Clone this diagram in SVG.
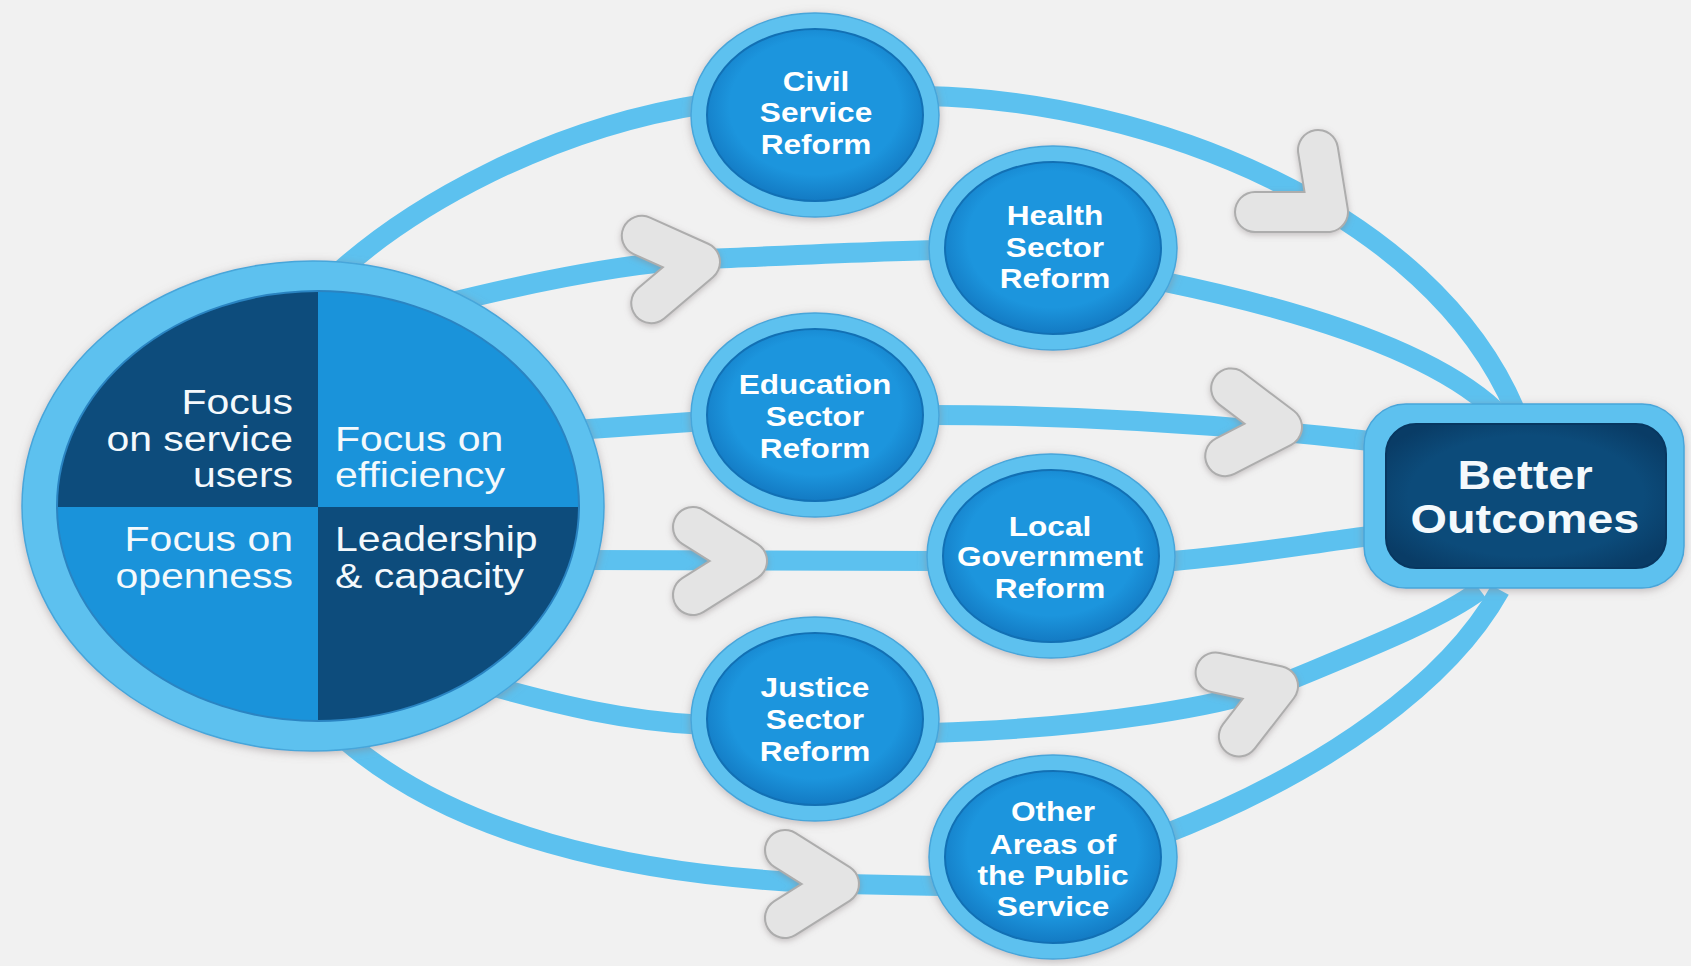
<svg xmlns="http://www.w3.org/2000/svg" xmlns:xlink="http://www.w3.org/1999/xlink" width="1691" height="966" viewBox="0 0 1691 966">
<defs>
<style>
.conn{fill:none;stroke:#5CC1EF;stroke-width:20}
.ring{fill:#5DC1EF;stroke:#47A6DA;stroke-width:1.5}
.core{fill:url(#coreGrad);stroke:#1270B4;stroke-width:2}
.lbl{font-family:"Liberation Sans",Arial,sans-serif;font-weight:bold;font-size:27px;fill:#FFFFFF;text-anchor:middle}
.qt{font-family:"Liberation Sans",Arial,sans-serif;font-size:35px;fill:#F4F9FC}
.big{font-family:"Liberation Sans",Arial,sans-serif;font-weight:bold;font-size:40px;fill:#F4F9FC;text-anchor:middle}
.chevO{fill:none;stroke:#ADADAD;stroke-width:42;stroke-linecap:round;stroke-linejoin:round}
.chevF{fill:none;stroke:#E4E4E4;stroke-width:38;stroke-linecap:round;stroke-linejoin:round}
.dark{fill:#0D4C7C}
.bright{fill:#1A93DA}
</style>
<radialGradient id="coreGrad" cx="50%" cy="45%" r="55%">
<stop offset="0.72" stop-color="#1C95DD"/>
<stop offset="1" stop-color="#137AC3"/>
</radialGradient>
<radialGradient id="darkGrad" cx="50%" cy="50%" r="60%">
<stop offset="0.7" stop-color="#0C4B7A"/>
<stop offset="1" stop-color="#093C66"/>
</radialGradient>
<filter id="sh" x="-20%" y="-20%" width="140%" height="140%">
<feDropShadow dx="0" dy="2" stdDeviation="4" flood-color="#8c8082" flood-opacity="0.5"/>
</filter>
<filter id="shc" x="-80%" y="-80%" width="260%" height="260%">
<feDropShadow dx="0" dy="2" stdDeviation="3" flood-color="#8c8082" flood-opacity="0.45"/>
</filter>
<path id="chev" d="M -54,-34 L 0,0 L -54,34"/>
<clipPath id="leftClip"><ellipse cx="318" cy="506" rx="261" ry="215"/></clipPath>
</defs>
<rect width="1691" height="966" fill="#F1F1F1"/>

<g id="connectors">
<path class="conn" d="M 330,280 C 410,205 550,128 705,104"/>
<path class="conn" d="M 925,96 C 1150,100 1430,210 1515,410"/>
<path class="conn" d="M 440,305 C 540,280 630,262 706,259 C 800,255 880,251 940,250"/>
<path class="conn" d="M 1165,282 C 1300,310 1430,350 1495,410"/>
<path class="conn" d="M 575,430 L 705,421"/>
<path class="conn" d="M 930,415 C 1080,415 1220,424 1370,441"/>
<path class="conn" d="M 585,560 L 940,561"/>
<path class="conn" d="M 1160,562 C 1240,556 1300,545 1370,536"/>
<path class="conn" d="M 470,680 C 560,706 630,722 705,725"/>
<path class="conn" d="M 930,733 C 1100,728 1230,705 1283,683 C 1360,651 1440,620 1480,590"/>
<path class="conn" d="M 345,740 C 450,830 620,878 845,884 L 940,886"/>
<path class="conn" d="M 1160,836 C 1330,770 1450,680 1500,590"/>
<g id="arrow-1" filter="url(#shc)">
<path class="chevO" d="M 1318,150 L 1328,212 L 1255,212"/>
<path class="chevF" d="M 1318,150 L 1328,212 L 1255,212"/>
</g>
<g id="arrow-2" filter="url(#shc)">
<use xlink:href="#chev" class="chevO" transform="translate(700 262) rotate(-8)"/>
<use xlink:href="#chev" class="chevF" transform="translate(700 262) rotate(-8)"/>
</g>
<g id="arrow-3" filter="url(#shc)">
<use xlink:href="#chev" class="chevO" transform="translate(1282 427) rotate(5)"/>
<use xlink:href="#chev" class="chevF" transform="translate(1282 427) rotate(5)"/>
</g>
<g id="arrow-4" filter="url(#shc)">
<use xlink:href="#chev" class="chevO" transform="translate(747 561)"/>
<use xlink:href="#chev" class="chevF" transform="translate(747 561)"/>
</g>
<g id="arrow-5" filter="url(#shc)">
<use xlink:href="#chev" class="chevO" transform="translate(1278 686) rotate(-20)"/>
<use xlink:href="#chev" class="chevF" transform="translate(1278 686) rotate(-20)"/>
</g>
<g id="arrow-6" filter="url(#shc)">
<use xlink:href="#chev" class="chevO" transform="translate(839 884)"/>
<use xlink:href="#chev" class="chevF" transform="translate(839 884)"/>
</g>
</g>

<g id="node-focus">
<ellipse class="ring" cx="313" cy="506" rx="291" ry="245" filter="url(#sh)"/>
<g clip-path="url(#leftClip)">
<rect class="dark" x="50" y="285" width="268" height="222"/>
<rect class="bright" x="318" y="285" width="272" height="222"/>
<rect class="bright" x="50" y="507" width="268" height="222"/>
<rect class="dark" x="318" y="507" width="272" height="222"/>
</g>
<ellipse cx="318" cy="506" rx="261" ry="215" fill="none" stroke="#2A84C2" stroke-width="2"/>
<text class="qt" text-anchor="end" transform="translate(293 0) scale(1.17 1)"><tspan x="0" y="414">Focus</tspan><tspan x="0" y="451">on service</tspan><tspan x="0" y="487">users</tspan></text>
<text class="qt" text-anchor="start" transform="translate(335 0) scale(1.17 1)"><tspan x="0" y="451">Focus on</tspan><tspan x="0" y="487">efficiency</tspan></text>
<text class="qt" text-anchor="end" transform="translate(293 0) scale(1.17 1)"><tspan x="0" y="551">Focus on</tspan><tspan x="0" y="588">openness</tspan></text>
<text class="qt" text-anchor="start" transform="translate(335 0) scale(1.17 1)"><tspan x="0" y="551">Leadership</tspan><tspan x="0" y="588">&amp; capacity</tspan></text>
</g>

<g id="node-civil">
<ellipse class="ring" cx="815" cy="115" rx="124" ry="102" filter="url(#sh)"/>
<ellipse class="core" cx="815" cy="115" rx="108" ry="86"/>
<text class="lbl" transform="translate(816 0) scale(1.17 1)"><tspan x="0" y="91">Civil</tspan><tspan x="0" y="122">Service</tspan><tspan x="0" y="154">Reform</tspan></text>
</g>

<g id="node-health">
<ellipse class="ring" cx="1053" cy="248" rx="124" ry="102" filter="url(#sh)"/>
<ellipse class="core" cx="1053" cy="248" rx="108" ry="86"/>
<text class="lbl" transform="translate(1055 0) scale(1.17 1)"><tspan x="0" y="225">Health</tspan><tspan x="0" y="257">Sector</tspan><tspan x="0" y="288">Reform</tspan></text>
</g>

<g id="node-education">
<ellipse class="ring" cx="815" cy="415" rx="124" ry="102" filter="url(#sh)"/>
<ellipse class="core" cx="815" cy="415" rx="108" ry="86"/>
<text class="lbl" transform="translate(815 0) scale(1.17 1)"><tspan x="0" y="394">Education</tspan><tspan x="0" y="426">Sector</tspan><tspan x="0" y="458">Reform</tspan></text>
</g>

<g id="node-local">
<ellipse class="ring" cx="1051" cy="556" rx="124" ry="102" filter="url(#sh)"/>
<ellipse class="core" cx="1051" cy="556" rx="108" ry="86"/>
<text class="lbl" transform="translate(1050 0) scale(1.17 1)"><tspan x="0" y="536">Local</tspan><tspan x="0" y="566">Government</tspan><tspan x="0" y="598">Reform</tspan></text>
</g>

<g id="node-justice">
<ellipse class="ring" cx="815" cy="719" rx="124" ry="102" filter="url(#sh)"/>
<ellipse class="core" cx="815" cy="719" rx="108" ry="86"/>
<text class="lbl" transform="translate(815 0) scale(1.17 1)"><tspan x="0" y="697">Justice</tspan><tspan x="0" y="729">Sector</tspan><tspan x="0" y="761">Reform</tspan></text>
</g>

<g id="node-other">
<ellipse class="ring" cx="1053" cy="857" rx="124" ry="102" filter="url(#sh)"/>
<ellipse class="core" cx="1053" cy="857" rx="108" ry="86"/>
<text class="lbl" transform="translate(1053 0) scale(1.17 1)"><tspan x="0" y="821">Other</tspan><tspan x="0" y="854">Areas of</tspan><tspan x="0" y="885">the Public</tspan><tspan x="0" y="916">Service</tspan></text>
</g>

<g id="node-outcomes">
<rect class="ring" x="1364" y="404" width="320" height="184" rx="42" filter="url(#sh)"/>
<rect x="1386" y="424" width="280" height="144" rx="30" fill="url(#darkGrad)" stroke="#083760" stroke-width="2"/>
<text class="big" transform="translate(1525 0) scale(1.17 1)"><tspan x="0" y="489">Better</tspan><tspan x="0" y="533">Outcomes</tspan></text>
</g>
</svg>
